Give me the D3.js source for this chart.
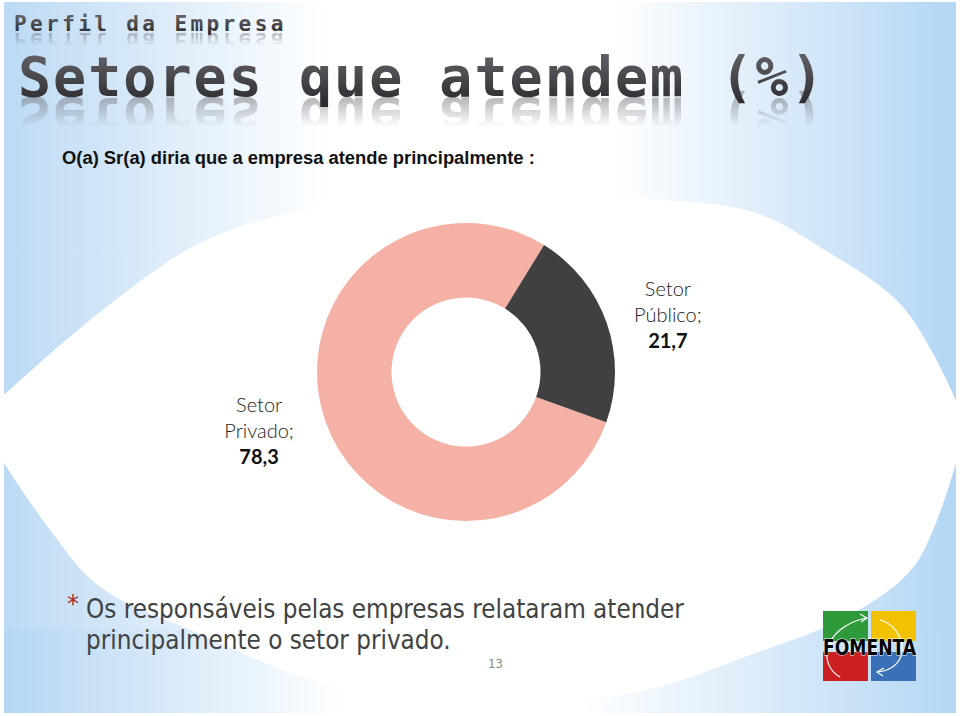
<!DOCTYPE html>
<html><head><meta charset="utf-8">
<script src="https://cdn.jsdelivr.net/npm/d3@7"></script>
<style>html,body{margin:0;padding:0;background:#fff;} svg{display:block}</style>
</head><body>
<svg id="c" width="960" height="716"></svg>
<script>
// ---- data ----
const categories = ["Setor Privado", "Setor Público"];
const values = [78.3, 21.7];
const valueLabels = ["78,3", "21,7"];
const sliceColors = ["#f5b1a5", "#404040"];
const superTitle = "Perfil da Empresa";
const mainTitle = "Setores que atendem (%)";
const question = "O(a) Sr(a) diria que a empresa atende principalmente :";
const noteLines = ["Os responsáveis pelas empresas relataram atender", "principalmente o setor privado."];
const pageNumber = "13";

const svg = d3.select("#c");
const defs = svg.append("defs");

// ---- background ----
const bg = defs.append("linearGradient").attr("id", "bgGrad").attr("x1", 0).attr("x2", 1).attr("y1", 0).attr("y2", 0);
[[0, "#bcdaf4"], [0.34, "#ffffff"], [0.64, "#ffffff"], [1, "#b3d6f4"]].forEach(s =>
  bg.append("stop").attr("offset", s[0]).attr("stop-color", s[1]));
svg.append("rect").attr("x", 4).attr("y", 2).attr("width", 952).attr("height", 711).attr("fill", "url(#bgGrad)");

const bandGrad = defs.append("linearGradient").attr("id", "bandGrad").attr("x1", 0).attr("x2", 1);
[[0, "#b5d6f3"], [0.36, "#ffffff"], [0.6, "#ffffff"], [1, "#b5d7f4"]].forEach(s =>
  bandGrad.append("stop").attr("offset", s[0]).attr("stop-color", s[1]));
svg.append("rect").attr("x", 4).attr("y", 630).attr("width", 952).attr("height", 83).attr("fill", "url(#bandGrad)");

const topEdge = [[4,395],[100,312],[200,243],[300,211],[420,197],[540,194],[650,199],[753,212],[820,247],[903,307],[956,400]];
const bottomEdge = [[956,463],[915,565],[850,615],[750,655],[647,690],[500,706],[400,700],[300,676],[200,634],[100,587],[50,530],[4,463]];
const lineGen = d3.line().curve(d3.curveCatmullRom.alpha(0.5));
const shapeD = lineGen(topEdge) + "L" + lineGen(bottomEdge).slice(1) + "Z";
svg.append("path").attr("d", shapeD).attr("fill", "#ffffff");

// ---- titles with reflections ----
const tGrad = defs.append("linearGradient").attr("id", "tGrad").attr("x1", 0).attr("x2", 0).attr("y1", 0).attr("y2", 1);
tGrad.append("stop").attr("offset", 0).attr("stop-color", "#6a6a70");
tGrad.append("stop").attr("offset", 1).attr("stop-color", "#26262a");

function reflection(txt, x, baseline, fs, ls, h) {
  const cv = document.createElement("canvas");
  cv.width = 960; cv.height = 716;
  const ctx = cv.getContext("2d");
  ctx.font = `bold ${fs}px "DejaVu Sans Mono"`;
  if ("letterSpacing" in ctx) ctx.letterSpacing = ls + "px";
  ctx.fillStyle = "#78787e";
  ctx.save();
  ctx.translate(0, 2 * baseline + 2);
  ctx.scale(1, -1);
  ctx.fillText(txt, x, baseline);
  ctx.restore();
  ctx.globalCompositeOperation = "destination-in";
  const gr = ctx.createLinearGradient(0, baseline + 1, 0, baseline + 1 + h);
  gr.addColorStop(0, "rgba(0,0,0,0.55)");
  gr.addColorStop(1, "rgba(0,0,0,0)");
  ctx.fillStyle = gr;
  ctx.fillRect(0, 0, 960, 716);
  svg.append("image").attr("x", 0).attr("y", 0).attr("width", 960).attr("height", 716)
    .attr("href", cv.toDataURL());
}

function titleText(txt, x, baseline, fs, ls, reflH) {
  reflection(txt, x, baseline, fs, ls, reflH);
  svg.append("text").attr("x", x).attr("y", baseline).text(txt)
    .attr("font-family", "DejaVu Sans Mono").attr("font-weight", "bold")
    .attr("font-size", fs).attr("letter-spacing", ls).attr("fill", "url(#tGrad)");
}
titleText(superTitle, 14, 31, 21, 3.4, 14);
titleText(mainTitle, 18, 96, 55, 2.0, 30);

function fitWidth(sel, w) {
  const cur = sel.node().getComputedTextLength();
  sel.attr("font-size", parseFloat(sel.attr("font-size")) * w / cur);
  return parseFloat(sel.attr("font-size"));
}

const q = svg.append("text").attr("x", 62).attr("y", 164).text(question)
  .attr("font-family", "Liberation Sans").attr("font-weight", "bold").attr("font-size", 15).attr("fill", "#111");
fitWidth(q, 473);

// ---- donut ----
const cx = 466, cy = 372, R = 149, r = 74.5;
const start = 109.7 * Math.PI / 180;
const pie = d3.pie().sort(null).value(d => d).startAngle(start).endAngle(start + 2 * Math.PI);
const arcs = pie(values);
const arc = d3.arc().innerRadius(r).outerRadius(R);
const g = svg.append("g").attr("transform", `translate(${cx},${cy})`);
g.selectAll("path").data(arcs).join("path").attr("d", arc).attr("fill", (d, i) => sliceColors[i]);

// labels
const lrx = 214, lry = 175;
arcs.forEach((a, i) => {
  const m = (a.startAngle + a.endAngle) / 2;
  const lx = Math.sin(m) * lrx + (i === 0 ? -5 : 0), ly = -Math.cos(m) * lry + 8;
  const parts = categories[i].split(" ");
  const lines = [parts[0], parts.slice(1).join(" ") + ";", valueLabels[i]];
  lines.forEach((ln, j) => {
    g.append("text").attr("x", lx).attr("y", ly + (j - 1) * 26).text(ln)
      .attr("text-anchor", "middle").attr("font-family", "Lato").attr("font-size", 20)
      .attr("font-weight", j === 2 ? "bold" : "300").attr("fill", j === 2 ? "#111" : "#222");
  });
});

// ---- footnote ----
svg.append("text").attr("x", 67).attr("y", 612).text("*")
  .attr("font-family", "DejaVu Sans").attr("font-size", 24).attr("fill", "#b02a1e");
const n1 = svg.append("text").attr("x", 86).attr("y", 618).text(noteLines[0])
  .attr("font-family", "DejaVu Sans Condensed, DejaVu Sans").attr("font-size", 24).attr("fill", "#404244");
const nfs = fitWidth(n1, 598);
svg.append("text").attr("x", 86).attr("y", 649).text(noteLines[1])
  .attr("font-family", "DejaVu Sans Condensed, DejaVu Sans").attr("font-size", nfs).attr("fill", "#404244");
svg.append("text").attr("x", 488).attr("y", 668).text(pageNumber)
  .attr("font-family", "DejaVu Sans Condensed, DejaVu Sans").attr("font-size", 13).attr("fill", "#8a8a8a");

// ---- logo ----
const logo = svg.append("g");
logo.append("rect").attr("x", 823).attr("y", 611).attr("width", 45).attr("height", 30).attr("fill", "#2e9a3a");
logo.append("rect").attr("x", 871).attr("y", 611).attr("width", 45).attr("height", 30).attr("fill", "#f2c200");
logo.append("rect").attr("x", 823).attr("y", 652).attr("width", 45).attr("height", 29).attr("fill", "#cc2020");
logo.append("rect").attr("x", 871).attr("y", 652).attr("width", 45).attr("height", 29).attr("fill", "#3a70b8");
logo.append("path").attr("d", "M840,677 C818,665 822,628 866,618").attr("fill", "none").attr("stroke", "#fff").attr("stroke-width", 1.2);
logo.append("path").attr("d", "M860,614 L867,618 L861,622").attr("fill", "none").attr("stroke", "#fff").attr("stroke-width", 1.2);
logo.append("path").attr("d", "M880,620 C905,626 915,668 877,672").attr("fill", "none").attr("stroke", "#fff").attr("stroke-width", 1.2);
logo.append("path").attr("d", "M884,668 L877,672 L883,676").attr("fill", "none").attr("stroke", "#fff").attr("stroke-width", 1.2);
logo.append("text").attr("x", 823).attr("y", 655).text("FOMENTA")
  .attr("font-family", "DejaVu Sans Condensed").attr("font-weight", "bold").attr("font-size", 21)
  .attr("fill", "#000").attr("stroke", "#fff").attr("stroke-width", 0.8).attr("paint-order", "stroke")
  .attr("textLength", 93).attr("lengthAdjust", "spacingAndGlyphs");
</script>
</body></html>
